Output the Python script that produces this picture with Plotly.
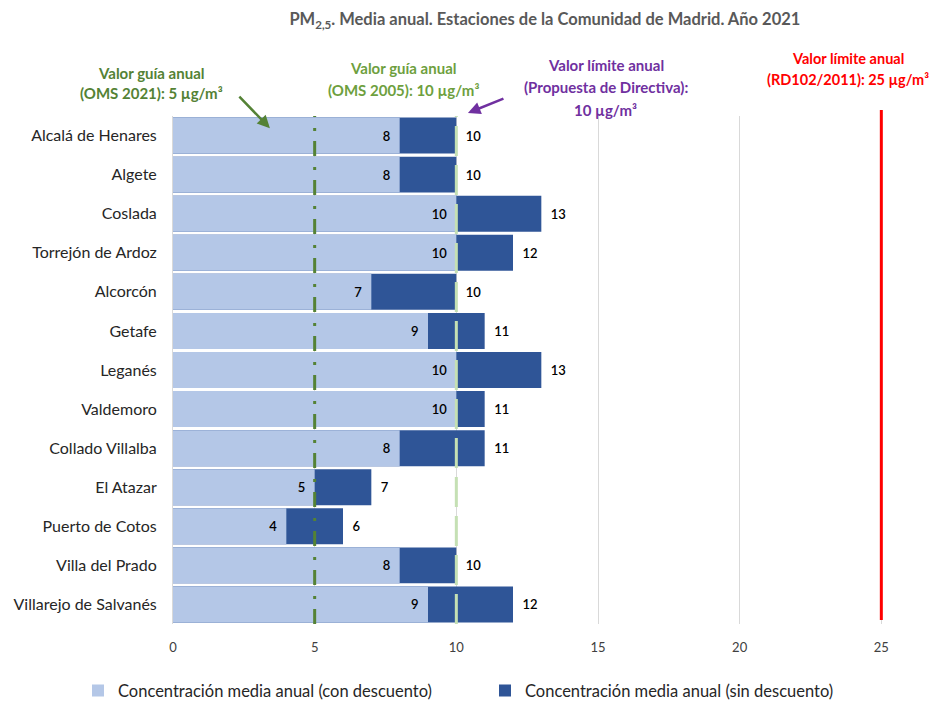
import plotly.graph_objects as go

estaciones = ["Alcalá de Henares", "Algete", "Coslada", "Torrejón de Ardoz", "Alcorcón",
              "Getafe", "Leganés", "Valdemoro", "Collado Villalba", "El Atazar",
              "Puerto de Cotos", "Villa del Prado", "Villarejo de Salvanés"]
con_descuento = [8, 8, 10, 10, 7, 9, 10, 10, 8, 5, 4, 8, 9]
sin_descuento = [10, 10, 13, 12, 10, 11, 13, 11, 11, 7, 6, 10, 12]

guia_oms_2021 = 5
guia_oms_2005 = 10
limite_directiva = 10
limite_rd = 25

FONT = "Lato"
C_LIGHT = "#B4C7E7"
C_DARK = "#2F5597"

fig = go.Figure()
fig.add_trace(go.Bar(
    y=estaciones, x=con_descuento, orientation="h",
    name="Concentración media anual (con descuento)",
    marker=dict(color=C_LIGHT, line=dict(width=0)),
    legend="legend", visible=True,
))
fig.add_trace(go.Bar(
    y=estaciones, x=sin_descuento, orientation="h",
    name="Concentración media anual (sin descuento)",
    marker=dict(color=C_DARK, line=dict(width=0)),
    text=sin_descuento, texttemplate="\u00a0\u00a0%{x}", textposition="outside",
    textfont=dict(family=FONT, size=13, color="#000000", weight=600),
    cliponaxis=False, legend="legend2",
))
# barra clara encima de la oscura
fig.add_trace(go.Bar(
    y=estaciones, x=con_descuento, orientation="h",
    marker=dict(color=C_LIGHT, line=dict(width=0)),
    text=con_descuento, texttemplate="%{x}\u00a0\u00a0", textposition="inside",
    insidetextanchor="end",
    textfont=dict(family=FONT, size=13, color="#000000", weight=600),
    showlegend=False,
))

# líneas de referencia
fig.add_shape(type="line", xref="x", yref="paper", x0=guia_oms_2021, x1=guia_oms_2021,
              y0=0, y1=1, line=dict(color="#548235", width=3, dash="15px,10px,3px,11px"))
fig.add_shape(type="line", xref="x", yref="paper", x0=guia_oms_2005, x1=guia_oms_2005,
              y0=0, y1=1, line=dict(color="#C5E0B4", width=3, dash="30px,9px"))
fig.add_shape(type="line", xref="x", yref="paper", x0=limite_rd, x1=limite_rd,
              y0=0.008, y1=1.012, line=dict(color="#FF0000", width=3))

# textos de los valores de referencia (una línea por anotación)
textos = [
    ("Valor guía anual", -0.030, 1.085, "#548235", 15),
    ("(OMS 2021): 5 µg/m³", -0.030, 1.045, "#548235", 15),
    ("Valor guía anual", 0.316, 1.094, "#6E9F3E", 15),
    ("(OMS 2005): 10 µg/m³", 0.316, 1.051, "#6E9F3E", 15),
    ("Valor límite anual", 0.592, 1.100, "#7030A0", 15),
    ("(Propuesta de Directiva):", 0.592, 1.057, "#7030A0", 15),
    ("10 µg/m³", 0.592, 1.012, "#7030A0", 15),
    ("Valor límite anual", 0.923, 1.114, "#FF0000", 14.5),
    ("(RD102/2011): 25 µg/m³", 0.923, 1.071, "#FF0000", 14.5),
]
for t, x, y, c, s in textos:
    fig.add_annotation(x=x, y=y, xref="paper", yref="paper", xanchor="center", yanchor="middle",
                       text=t, showarrow=False,
                       font=dict(family=FONT, size=s, color=c, weight="bold"))

fig.add_annotation(x=3.42, y=0.976, ax=-32, ay=-33, xref="x", yref="paper",
                   text="", showarrow=True,
                   arrowhead=2, arrowsize=1, arrowwidth=2.5, arrowcolor="#548235")
fig.add_annotation(x=10.41, y=1.006, ax=37, ay=-15, xref="x", yref="paper",
                   text="", showarrow=True,
                   arrowhead=2, arrowsize=1, arrowwidth=2.5, arrowcolor="#7030A0")

fig.update_xaxes(
    range=[0, 25.8], tickvals=[0, 5, 10, 15, 20, 25],
    showgrid=True, gridcolor="#D9D9D9", gridwidth=1, zeroline=False,
    showline=False, tickfont=dict(family=FONT, size=13, color="#404040"),
    ticks="", ticklabelstandoff=14, automargin=False,
)
fig.update_yaxes(
    autorange="reversed", showgrid=False, showline=True, linecolor="#D9D9D9",
    tickfont=dict(family=FONT, size=16, color="#262626"), ticks="",
    ticklabelstandoff=12, automargin=False,
)

leg = dict(orientation="h", xref="container", yref="container", y=0.016,
           xanchor="left", yanchor="middle", itemwidth=30,
           font=dict(family=FONT, size=16.5, color="#262626"))
fig.update_layout(
    width=933, height=702,
    barmode="overlay", bargap=0.08,
    plot_bgcolor="white", paper_bgcolor="white",
    margin=dict(l=173, r=29, t=116, b=78),
    title=dict(text="PM<sub>2,5</sub>. Media anual. Estaciones de la Comunidad de Madrid. Año 2021",
               x=0.584, xanchor="center", y=0.972, yanchor="middle",
               font=dict(family=FONT, size=16.5, color="#595959", weight="bold")),
    legend=dict(x=78 / 933, **leg),
    legend2=dict(x=485 / 933, **leg),
    font=dict(family=FONT),
)

fig.write_html("out.html", config={"displayModeBar": False},
               post_script="document.body.style.margin='0';")
